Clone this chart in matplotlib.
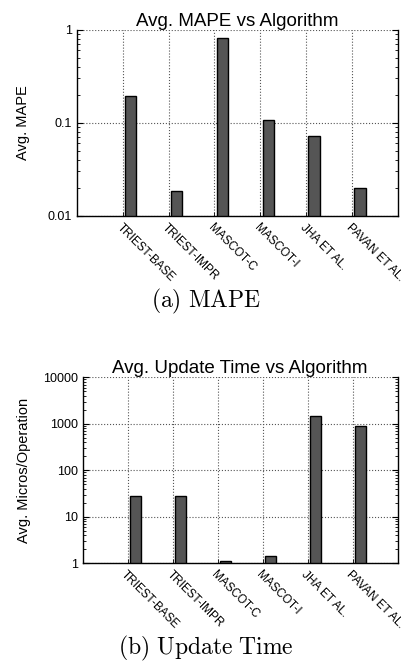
import matplotlib
matplotlib.use("Agg")
import matplotlib.pyplot as plt
from matplotlib.ticker import LogLocator, NullFormatter, FixedLocator

algorithms = ["TRIEST-BASE", "TRIEST-IMPR", "MASCOT-C", "MASCOT-I", "JHA ET AL.", "PAVAN ET AL."]
mape = [0.195, 0.0184, 0.81, 0.107, 0.072, 0.020]
update_micros = [28, 28.5, 1.1, 1.44, 1450, 880]

plt.rcParams['font.family'] = ['Liberation Sans', 'DejaVu Sans']
plt.rcParams['mathtext.fontset'] = 'cm'


def draw_panel(ax, values, ylim, yticks, yticklabels, title, ylabel):
    x = list(range(1, len(values) + 1))
    ax.bar([p + 0.05 for p in x], [v - ylim[0] for v in values], width=0.25,
           bottom=ylim[0], align='edge', color='#555555', edgecolor='black',
           linewidth=1.0, zorder=3)
    ax.set_yscale('log')
    ax.set_ylim(*ylim)
    ax.set_xlim(0, len(values) + 1)
    ax.yaxis.set_major_locator(FixedLocator(yticks))
    ax.set_yticklabels(yticklabels)
    ax.yaxis.set_minor_locator(LogLocator(base=10, subs=range(2, 10)))
    ax.yaxis.set_minor_formatter(NullFormatter())
    ax.set_xticks(x)
    ax.set_xticklabels(algorithms, rotation=-45, ha='left', va='top',
                       rotation_mode='anchor', fontsize=8.5)
    ax.tick_params(axis='y', which='both', direction='in', right=True,
                   labelsize=9)
    ax.tick_params(axis='y', which='major', length=4, width=0.8)
    ax.tick_params(axis='y', which='minor', length=2, width=0.6)
    ax.tick_params(axis='x', direction='in', length=3, width=0.6, pad=4)
    ax.grid(True, which='major', linestyle=':', color='#555555', linewidth=0.8, zorder=0)
    ax.spines['top'].set_visible(False)
    for s in ['left', 'right', 'bottom']:
        ax.spines[s].set_linewidth(1.0)
    ax.set_title(title, fontsize=13.5, pad=3)
    ax.set_ylabel(ylabel, fontsize=10.5)


fig = plt.figure(figsize=(4.11, 6.62), dpi=100)

ax1 = fig.add_axes([0.187, 0.674, 0.781, 0.281])
draw_panel(ax1, mape, (0.01, 1), [0.01, 0.1, 1], ['0.01', '0.1', '1'],
           'Avg. MAPE vs Algorithm', 'Avg. MAPE')
ax1.yaxis.set_label_coords(-0.145, 0.5)

ax2 = fig.add_axes([0.201, 0.149, 0.767, 0.281])
draw_panel(ax2, update_micros, (1, 10000), [1, 10, 100, 1000, 10000],
           ['1', '10', '100', '1000', '10000'],
           'Avg. Update Time vs Algorithm', 'Avg. Micros/Operation')
ax2.yaxis.set_label_coords(-0.164, 0.5)

fig.text(0.5, 0.544, r'$\mathrm{(a)\ MAPE}$', ha='center', va='center', fontsize=17)
fig.text(0.5, 0.021, r'$\mathrm{(b)\ Update\ Time}$', ha='center', va='center', fontsize=17)

fig.savefig('out.png', dpi=100)
